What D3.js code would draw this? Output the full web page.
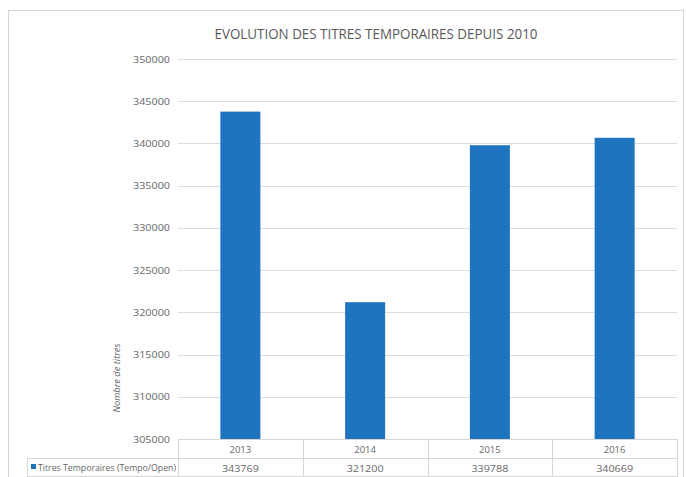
<!DOCTYPE html>
<html>
<head>
<meta charset="utf-8">
<script src="https://cdn.jsdelivr.net/npm/d3@7"></script>
<style>
  body { margin: 0; background: #fff; }
  text { font-family: "Open Sans", "Noto Sans", sans-serif; }
</style>
</head>
<body>
<div id="chart"></div>
<script>
// donnees
const years = ["2013", "2014", "2015", "2016"];
const values = [343769, 321200, 339788, 340669];
const yTicks = [305000, 310000, 315000, 320000, 325000, 330000, 335000, 340000, 345000, 350000];
const seriesName = "Titres Temporaires (Tempo/Open)";

const width = 686, height = 477;
const plotLeft = 178, plotRight = 677, plotTop = 59, plotBottom = 439;
const rowH = 19;

const svg = d3.select("#chart").append("svg")
  .attr("width", width)
  .attr("height", height);

// cadre
svg.append("rect")
  .attr("x", 8.5).attr("y", 10.5)
  .attr("width", 675).attr("height", 480)
  .attr("fill", "#fff")
  .attr("stroke", "#d6d6d6");

const x = d3.scaleBand().domain(years).range([plotLeft, plotRight]).paddingInner(0).paddingOuter(0);
const y = d3.scaleLinear().domain([305000, 350000]).range([plotBottom, plotTop]);

// grille
svg.append("g").selectAll("line")
  .data(yTicks.slice(1))
  .join("line")
  .attr("x1", plotLeft).attr("x2", plotRight)
  .attr("y1", d => Math.round(y(d)) + 0.5).attr("y2", d => Math.round(y(d)) + 0.5)
  .attr("stroke", "#dcdcdc");

// etiquettes axe y
svg.append("g").selectAll("text")
  .data(yTicks)
  .join("text")
  .attr("x", 170)
  .attr("y", d => y(d) + 3.5)
  .attr("text-anchor", "end")
  .attr("font-size", 9.5)
  .attr("textLength", 37)
  .attr("lengthAdjust", "spacingAndGlyphs")
  .attr("fill", "#666")
  .text(d => d);

// barres
const barW = 40;
svg.append("g").selectAll("rect")
  .data(values)
  .join("rect")
  .attr("x", (d, i) => x(years[i]) + x.bandwidth() / 2 - barW / 2)
  .attr("y", d => y(d))
  .attr("width", barW)
  .attr("height", d => plotBottom - y(d))
  .attr("fill", "#1F74BF");

// tableau de donnees
const tbl = svg.append("g").attr("stroke", "#d6d6d6").attr("fill", "none");
tbl.append("line").attr("x1", plotLeft).attr("x2", plotRight).attr("y1", plotBottom + 0.5).attr("y2", plotBottom + 0.5);
tbl.append("line").attr("x1", 27).attr("x2", plotRight).attr("y1", plotBottom + rowH + 0.5).attr("y2", plotBottom + rowH + 0.5);
tbl.append("line").attr("x1", 27).attr("x2", plotRight).attr("y1", plotBottom + 2 * rowH - 0.5).attr("y2", plotBottom + 2 * rowH - 0.5);
tbl.append("line").attr("x1", 27.5).attr("x2", 27.5).attr("y1", plotBottom + rowH).attr("y2", plotBottom + 2 * rowH);
tbl.selectAll(".v")
  .data(years.concat(["end"]))
  .join("line")
  .attr("x1", (d, i) => Math.round(plotLeft + i * x.bandwidth()) + 0.5)
  .attr("x2", (d, i) => Math.round(plotLeft + i * x.bandwidth()) + 0.5)
  .attr("y1", plotBottom).attr("y2", plotBottom + 2 * rowH);

svg.append("g").selectAll("text")
  .data(years)
  .join("text")
  .attr("x", d => x(d) + x.bandwidth() / 2)
  .attr("y", plotBottom + 14)
  .attr("text-anchor", "middle")
  .attr("font-size", 9.5)
  .attr("fill", "#666")
  .text(d => d);

svg.append("g").selectAll("text")
  .data(values)
  .join("text")
  .attr("x", (d, i) => x(years[i]) + x.bandwidth() / 2)
  .attr("y", plotBottom + rowH + 14)
  .attr("text-anchor", "middle")
  .attr("font-size", 9.5)
  .attr("textLength", 37)
  .attr("lengthAdjust", "spacingAndGlyphs")
  .attr("fill", "#666")
  .text(d => d);

// legende
svg.append("rect")
  .attr("x", 31).attr("y", plotBottom + rowH + 6)
  .attr("width", 5).attr("height", 5)
  .attr("fill", "#1F74BF");
svg.append("text")
  .attr("x", 38).attr("y", plotBottom + rowH + 13)
  .attr("font-size", 9.5)
  .attr("textLength", 138)
  .attr("lengthAdjust", "spacingAndGlyphs")
  .attr("fill", "#666")
  .text(seriesName);

// titre
svg.append("text")
  .attr("x", 376).attr("y", 39)
  .attr("text-anchor", "middle")
  .attr("font-size", 15)
  .attr("textLength", 323)
  .attr("lengthAdjust", "spacingAndGlyphs")
  .attr("fill", "#595959")
  .text("EVOLUTION DES TITRES TEMPORAIRES DEPUIS 2010");

// titre axe y
svg.append("text")
  .attr("transform", "translate(120,378) rotate(-90)")
  .attr("text-anchor", "middle")
  .attr("font-size", 8.5)
  .attr("font-style", "italic")
  .attr("textLength", 69)
  .attr("lengthAdjust", "spacingAndGlyphs")
  .attr("fill", "#666")
  .text("Nombre de titres");
</script>
</body>
</html>
